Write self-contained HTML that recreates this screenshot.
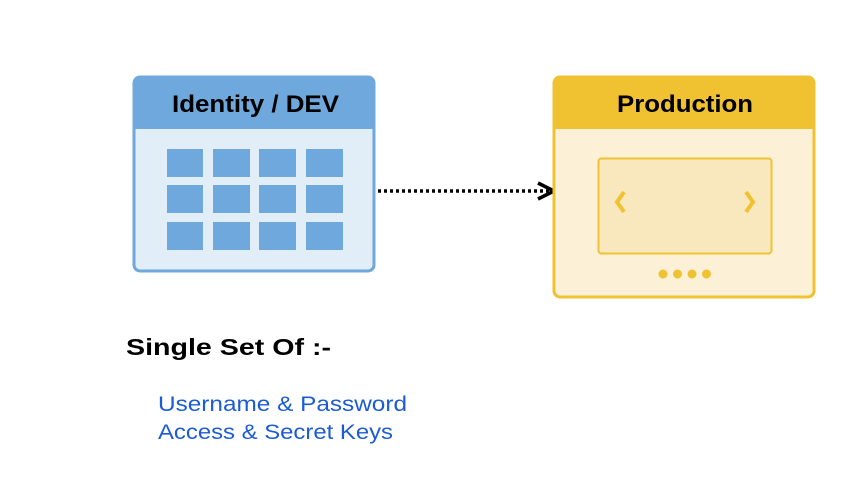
<!DOCTYPE html>
<html><head><meta charset="utf-8"><style>html,body{margin:0;padding:0;background:#fff}svg{display:block}</style></head><body>
<svg width="858" height="485" viewBox="0 0 858 485" xmlns="http://www.w3.org/2000/svg" font-family="Liberation Sans, Arial, sans-serif">
<rect x="0" y="0" width="858" height="485" fill="#fff"/>
<rect x="134" y="77" width="240" height="194" rx="6" fill="#e1edf7" stroke="#6fa8dc" stroke-width="3"/>
<path d="M134 129 V83 a6 6 0 0 1 6 -6 H368 a6 6 0 0 1 6 6 V129 Z" fill="#6fa8dc"/>
<text x="172" y="112" font-weight="bold" font-size="24" fill="#000" textLength="167" lengthAdjust="spacingAndGlyphs">Identity / DEV</text>
<g fill="#6fa8dc">
<rect x="167" y="149" width="36" height="28"/><rect x="213" y="149" width="37" height="28"/><rect x="259" y="149" width="37" height="28"/><rect x="306" y="149" width="37" height="28"/>
<rect x="167" y="185" width="36" height="28"/><rect x="213" y="185" width="37" height="28"/><rect x="259" y="185" width="37" height="28"/><rect x="306" y="185" width="37" height="28"/>
<rect x="167" y="222" width="36" height="28"/><rect x="213" y="222" width="37" height="28"/><rect x="259" y="222" width="37" height="28"/><rect x="306" y="222" width="37" height="28"/>
</g>
<line x1="378" y1="191" x2="550" y2="191" stroke="#000" stroke-width="3.5" stroke-dasharray="3 3"/>
<path d="M538 183 L554 191 L538 199" fill="none" stroke="#000" stroke-width="3.5"/>
<rect x="554" y="77" width="260" height="220" rx="6" fill="#fcf1d6" stroke="#f0c232" stroke-width="3"/>
<path d="M554 129 V83 a6 6 0 0 1 6 -6 H808 a6 6 0 0 1 6 6 V129 Z" fill="#f0c232"/>
<text x="617" y="112" font-weight="bold" font-size="24" fill="#000" textLength="136" lengthAdjust="spacingAndGlyphs">Production</text>
<rect x="598.5" y="158.5" width="173" height="95" rx="3" fill="#f9e8bd" stroke="#f0c232" stroke-width="2"/>
<path d="M624 192 L617 202 L624 212" fill="none" stroke="#f0c232" stroke-width="4"/>
<path d="M746 192 L753 202 L746 212" fill="none" stroke="#f0c232" stroke-width="4"/>
<g fill="#f0c232"><circle cx="663" cy="274" r="4.5"/><circle cx="677.5" cy="274" r="4.5"/><circle cx="692" cy="274" r="4.5"/><circle cx="706.5" cy="274" r="4.5"/></g>
<text x="126" y="355" font-weight="bold" font-size="23" fill="#000" textLength="205" lengthAdjust="spacingAndGlyphs">Single Set Of :-</text>
<text x="158" y="411" font-size="21" fill="#1c5bd6" textLength="249" lengthAdjust="spacingAndGlyphs">Username &amp; Password</text>
<text x="158" y="439" font-size="21" fill="#1c5bd6" textLength="235" lengthAdjust="spacingAndGlyphs">Access &amp; Secret Keys</text>
</svg>
</body></html>
